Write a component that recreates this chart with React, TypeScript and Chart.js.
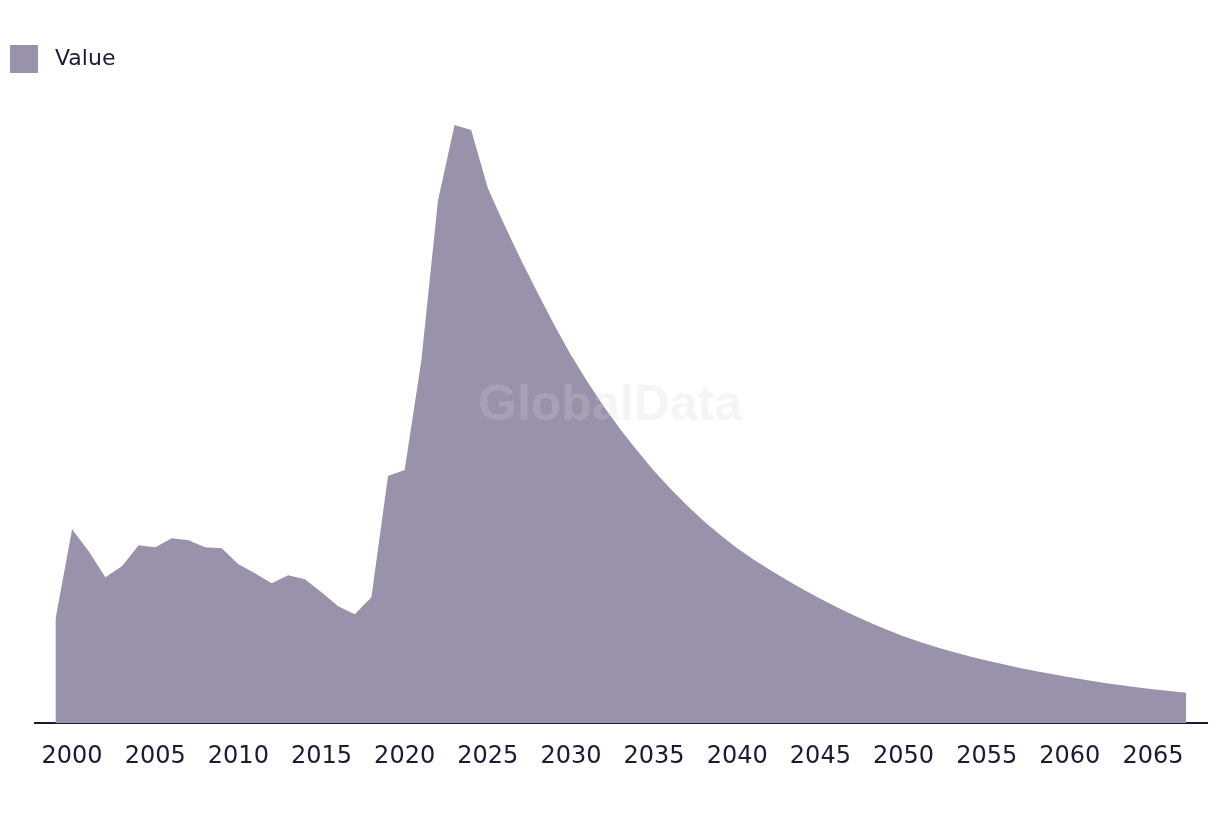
import React, { useEffect, useRef } from "react";
import { Chart, registerables } from "chart.js";

Chart.register(...registerables);

const SERIES_LABEL = "Value";

const YEARS = [
  1999, 2000, 2001, 2002, 2003, 2004, 2005, 2006, 2007, 2008, 2009,
  2010, 2011, 2012, 2013, 2014, 2015, 2016, 2017, 2018, 2019,
  2020, 2021, 2022, 2023, 2024, 2025, 2026, 2027, 2028, 2029,
  2030, 2031, 2032, 2033, 2034, 2035, 2036, 2037, 2038, 2039,
  2040, 2041, 2042, 2043, 2044, 2045, 2046, 2047, 2048, 2049,
  2050, 2051, 2052, 2053, 2054, 2055, 2056, 2057, 2058, 2059,
  2060, 2061, 2062, 2063, 2064, 2065, 2066, 2067,
];

const VALUES = [
  104, 194, 172, 146, 157, 178, 176, 185, 183, 176, 175,
  159, 150, 140, 148, 144, 131, 117, 109, 126, 247,
  253, 362, 522, 598, 593, 535, 498, 463, 430, 398,
  368, 341, 316, 293, 272, 252, 234, 217.5, 202, 188,
  175, 163.5, 153, 143, 133.5, 124.5, 116, 108, 100.5, 93.5,
  87, 81.2, 76, 71.2, 66.8, 62.7, 58.9, 55.3, 52, 48.9,
  46, 43.3, 40.5, 38.1, 35.9, 33.9, 32.1, 30.4,
];

const TICK_YEARS = [
  2000, 2005, 2010, 2015, 2020, 2025, 2030, 2035, 2040, 2045, 2050, 2055, 2060, 2065,
];

const WATERMARK = "GlobalData";

const FILL = "#9a91aa";
const TEXT = "#1c1b35";

export default function App() {
  const ref = useRef<HTMLCanvasElement | null>(null);

  useEffect(() => {
    if (!ref.current) return;

    const legendPlugin = {
      id: "customLegend",
      afterDraw(chart: any) {
        const ctx = chart.ctx;
        const ds = chart.data.datasets[0];
        ctx.save();
        ctx.fillStyle = ds.backgroundColor;
        ctx.fillRect(2, 37, 28, 28);
        ctx.fillStyle = TEXT;
        ctx.font = "22px 'DejaVu Sans'";
        ctx.textBaseline = "middle";
        ctx.textAlign = "left";
        ctx.fillText(ds.label, 47, 51);
        ctx.restore();
      },
    };

    const watermarkPlugin = {
      id: "watermark",
      afterDatasetsDraw(chart: any) {
        const ctx = chart.ctx;
        ctx.save();
        ctx.font = "bold 50px 'Liberation Sans'";
        ctx.fillStyle = "rgba(213,213,213,0.24)";
        ctx.textAlign = "center";
        ctx.textBaseline = "middle";
        ctx.fillText(WATERMARK, chart.width / 2, 398);
        ctx.restore();
      },
    };

    const chart = new Chart(ref.current, {
      type: "line",
      data: {
        datasets: [
          {
            label: SERIES_LABEL,
            data: YEARS.map((y, i) => ({ x: y, y: VALUES[i] })),
            backgroundColor: FILL,
            borderColor: FILL,
            borderWidth: 0,
            fill: "origin",
            pointRadius: 0,
            tension: 0,
          },
        ],
      },
      options: {
        responsive: false,
        animation: false,
        layout: { padding: { top: 92, left: 27, right: 5, bottom: 16 } },
        plugins: {
          legend: { display: false },
          tooltip: { enabled: false },
        },
        scales: {
          x: {
            type: "linear",
            min: 1997.77,
            max: 2068.25,
            grid: { display: false, drawTicks: false, tickLength: 0 },
            border: { display: true, color: TEXT, width: 2 },
            afterBuildTicks: (scale: any) => {
              scale.ticks = TICK_YEARS.map((v) => ({ value: v }));
            },
            ticks: {
              autoSkip: false,
              maxRotation: 0,
              padding: 19,
              color: TEXT,
              font: { family: "'DejaVu Sans'", size: 24 },
              callback: (v: any) => String(v),
            },
          },
          y: {
            display: false,
            min: 0,
            max: 623,
          },
        },
      },
      plugins: [watermarkPlugin, legendPlugin],
    });

    return () => chart.destroy();
  }, []);

  return <canvas ref={ref} width={1204} height={798} style={{ display: "block" }} />;
}
